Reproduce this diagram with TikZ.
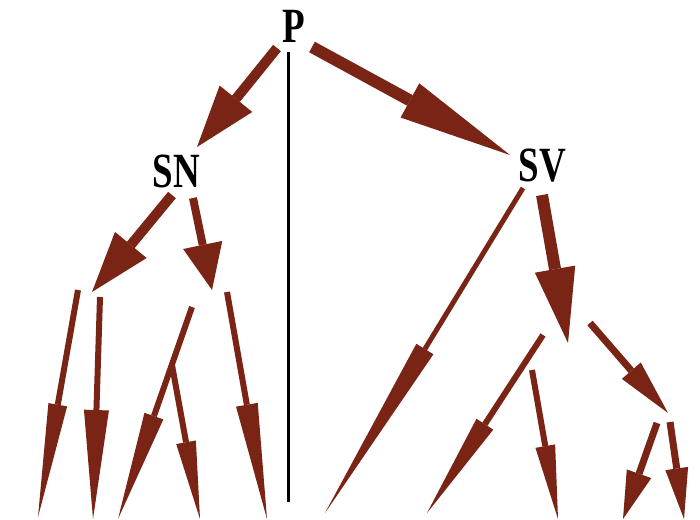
\documentclass[tikz,border=0pt]{standalone}
\usepackage{fontspec}
\setmainfont{Liberation Serif}
\usetikzlibrary{arrows.meta}
\definecolor{brn}{RGB}{122,36,22}
\tikzset{
  lbl/.style={inner sep=0pt, font=\fontsize{37}{40}\selectfont\bfseries},
  arw/.style n args={3}{draw=brn, line width=#1, -{Triangle[length=#2, width=#3, line width=0pt]}},
}
\begin{document}
\begin{tikzpicture}[x=1pt,y=-1pt]
\useasboundingbox (0,0) rectangle (700,519);
% labels
\node[lbl] (P) at (293.5,26) {\scalebox{1}[1.33]{P}};
\node[lbl] (SN) at (176.5,171) {\scalebox{1}[1.33]{SN}};
\node[lbl] (SV) at (542.5,166) {\scalebox{1}[1.33]{SV}};
% coordinates
\coordinate (p1) at (277,48);   \coordinate (sn) at (197,147);
\coordinate (p2) at (312,47);   \coordinate (sv) at (510,155);
\coordinate (vt) at (288,52);   \coordinate (vb) at (288,502);
\coordinate (sn1) at (172,195); \coordinate (nl) at (92,292);
\coordinate (sn2) at (193,198); \coordinate (nr) at (212,290);
\coordinate (l1s) at (78,290);  \coordinate (l1e) at (38,517);
\coordinate (l2s) at (100,297); \coordinate (l2e) at (93,519);
\coordinate (l3s) at (192,307); \coordinate (l3e) at (118,519);
\coordinate (l4s) at (172,365); \coordinate (l4e) at (200,519);
\coordinate (l5s) at (227,292); \coordinate (l5e) at (267,519);
\coordinate (sv1) at (523,188); \coordinate (r1e) at (325,513);
\coordinate (sv2) at (542,195); \coordinate (vm) at (568,343);
\coordinate (r2s) at (543,335); \coordinate (r2e) at (427,513);
\coordinate (r3s) at (532,370); \coordinate (r3e) at (558,519);
\coordinate (r4s) at (590,323); \coordinate (vr) at (668,413);
\coordinate (r5s) at (657,423); \coordinate (r5e) at (623,519);
\coordinate (r6s) at (670,422); \coordinate (r6e) at (684,519);
% black line
\draw[line width=3pt, black] (vt) -- (vb);
% arrows
\draw[arw={10pt}{62pt}{42pt}] (p1) -- (sn);
\draw[arw={12pt}{114pt}{39pt}] (p2) -- (sv);
\draw[arw={10pt}{61pt}{41pt}] (sn1) -- (nl);
\draw[arw={8pt}{46pt}{40pt}] (sn2) -- (nr);
\draw[arw={6pt}{114pt}{19pt}] (l1s) -- (l1e);
\draw[arw={6pt}{109pt}{25pt}] (l2s) -- (l2e);
\draw[arw={6pt}{109pt}{20pt}] (l3s) -- (l3e);
\draw[arw={6pt}{78pt}{20pt}] (l4s) -- (l4e);
\draw[arw={6pt}{116pt}{22pt}] (l5s) -- (l5e);
\draw[arw={5pt}{192pt}{20pt}] (sv1) -- (r1e);
\draw[arw={12pt}{75pt}{41pt}] (sv2) -- (vm);
\draw[arw={6pt}{106pt}{20pt}] (r2s) -- (r2e);
\draw[arw={6pt}{74pt}{20pt}] (r3s) -- (r3e);
\draw[arw={7pt}{56pt}{25pt}] (r4s) -- (vr);
\draw[arw={7pt}{48pt}{26pt}] (r5s) -- (r5e);
\draw[arw={7pt}{51pt}{23pt}] (r6s) -- (r6e);
\end{tikzpicture}
\end{document}
